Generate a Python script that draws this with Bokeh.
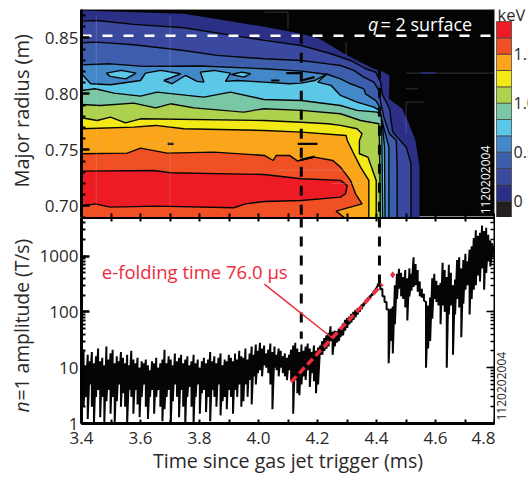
import math
import numpy as np
from bokeh.embed import file_html
from bokeh.resources import INLINE
from bokeh.plotting import figure
from bokeh.layouts import column, row
from bokeh.models import Range1d, FixedTicker, LogTicker, Label, LinearAxis, LogAxis, PrintfTickFormatter

FONT = "Open Sans"
INK = "#2b2728"
RED = "#ee2a3c"

# contour boundaries of the electron temperature map, outermost first
edge_t = [3.4, 3.747, 4.02, 4.145, 4.207, 4.291, 4.334, 4.391, 4.425, 4.444, 4.442, 4.487, 4.510, 4.532, 4.546, 4.546]
edge_R = [.8746, .8716, .8600, .8537, .8493, .8359, .8299, .8225, .8195, .8165, .7957, .7868, .7734, .7585, .7347, .6897]
c1_t = [3.4, 3.453, 3.577, 3.747, 4.02, 4.145, 4.246, 4.312, 4.363, 4.397, 4.414, 4.419, 4.444, 4.455, 4.501, 4.517, 4.517]
c1_R = [.8650, .8656, .8621, .8591, .8478, .8433, .8359, .8299, .8225, .8195, .8106, .8001, .7868, .7659, .7525, .7376, .6897]
c2_t = [3.4, 3.453, 3.577, 3.747, 3.86, 4.018, 4.145, 4.235, 4.278, 4.323, 4.357, 4.391, 4.408, 4.414, 4.425, 4.444, 4.467, 4.470, 4.470]
c2_R = [.8457, .8463, .8439, .8388, .8344, .8314, .8299, .8269, .8254, .8210, .8150, .8105, .8031, .7927, .7793, .7644, .7585, .7347, .6897]
c3_t = [3.4, 3.498, 3.611, 3.803, 4.018, 4.145, 4.235, 4.278, 4.312, 4.357, 4.363, 4.397, 4.408, 4.416, 4.430, 4.442, 4.442]
c3_R = [.8260, .8269, .8246, .8249, .8225, .8204, .8174, .8135, .8091, .8046, .8001, .7942, .7897, .7793, .7644, .7525, .6897]
c4_t = [3.4, 3.431, 3.498, 3.6, 3.617, 3.668, 3.736, 3.679, 3.707, 3.752, 3.792, 3.815, 3.803, 3.849, 3.905, 3.888, 3.928, 4.018,
        4.105, 4.145, 4.19, 4.233, 4.201, 4.246, 4.278, 4.334, 4.391, 4.410, 4.421, 4.427, 4.429]
c4_R = [.8180, .8091, .8082, .8120, .8186, .8210, .8180, .8120, .8091, .8165, .8112, .8106, .8195, .8210, .8186, .8112, .8120, .8106,
        .8091, .8097, .8120, .8180, .8106, .8076, .7987, .7927, .7882, .7853, .7704, .7525, .6897]
c5_t = [3.4, 3.447, 3.51, 3.6, 3.656, 3.758, 3.815, 3.905, 4.018, 4.145, 4.278, 4.334, 4.402, 4.416, 4.418, 4.421]
c5_R = [.8031, .8046, .8007, .7981, .8016, .7987, .7972, .8016, .7951, .7942, .7897, .7853, .7838, .7808, .7644, .6897]
c6_t = [3.4, 3.464, 3.577, 3.651, 3.702, 3.781, 3.95, 4.018, 4.145, 4.278, 4.346, 4.408, 4.41, 4.413]
c6_R = [.7906, .7897, .7918, .7876, .7912, .7876, .7838, .7868, .7853, .7823, .7763, .7734, .7585, .6897]
c7_t = [3.4, 3.453, 3.498, 3.549, 3.6, 4.018, 4.145, 4.235, 4.278, 4.334, 4.351, 4.342, 4.342, 4.371, 4.399, 4.399]
c7_R = [.7787, .7763, .7793, .7742, .7778, .7763, .7748, .7734, .7719, .7689, .7644, .7585, .7466, .7436, .7228, .6897]
c8_t = [3.4, 3.577, 3.651, 3.747, 4.018, 4.145, 4.297, 4.301, 4.323, 4.346, 4.374, 4.374]
c8_R = [.7689, .7704, .7719, .7689, .7674, .7659, .7629, .7585, .7466, .7347, .7228, .6897]
c9_t = [3.4, 3.555, 3.6, 3.69, 3.849, 4.02, 4.05, 4.06, 4.105, 4.133, 4.19, 4.252, 4.278, 4.312, 4.329, 4.351, 4.263, 4.291]
c9_R = [.7466, .7472, .7516, .7472, .7481, .7451, .7406, .7451, .7451, .7401, .7436, .7406, .7347, .7228, .7109, .7019, .6954, .6897]
c10_t = [3.4, 3.645, 3.702, 4.018, 4.145, 4.278, 4.301, 4.295, 4.278, 4.145, 4.02, 3.956, 3.916, 3.656, 3.498, 3.447, 3.4]
c10_R = [.7311, .7317, .7296, .7281, .7243, .7228, .7183, .7109, .7079, .7049, .7040, .7019, .6984, .6999, .6990, .7019, .6996]
island1_t = [3.484, 3.535, 3.585, 3.55, 3.497]
island1_R = [.8186, .8210, .8186, .8135, .8157]
island2_t = [3.908, 3.943, 3.973, 3.950]
island2_R = [.8174, .8195, .8180, .8150]
frag_t = [[3.692, 3.712], [4.133, 4.2], [4.094, 4.145], [4.043, 4.071], [4.145, 4.19], [4.14, 4.19]]
frag_R = [[.7555, .7555], [.7555, .7555], [.8186, .8186], [.8120, .8120], [.8120, .8150], [.7410, .7440]]
# faint stray grid lines of the original map
ghost_t = [[4.50, 4.80], [4.50, 4.54], [4.50, 4.50], [4.50, 4.56], [4.02, 4.10], [4.10, 4.10], [4.297, 4.297],
           [3.60, 3.75], [4.06, 4.30], [3.45, 3.45], [3.70, 3.70], [3.90, 4.05], [4.25, 4.36]]
ghost_R = [[.8186, .8186], [.8046, .8046], [.7927, .7644], [.7927, .7927], [.8731, .8731], [.8731, .8582], [.846, .834],
           [.7555, .7555], [.7319, .7319], [.87, .70], [.87, .70], [.785, .785], [.7200, .7200]]
navy_frag_t = [4.55, 4.60]
navy_frag_R = [.8186, .8186]

band_colors = ["#2b2f86", "#3a48a0", "#3c5eac", "#4388c8", "#5cc8e8", "#7ac7a5", "#aed14e", "#f3e917", "#fba51b", "#f15024", "#ed1c24"]
cb_colors = ["#231f20"] + band_colors
cb_edges = [-1/6, 0, 1/6, 2/6, 3/6, 4/6, 5/6, 1, 7/6, 8/6, 9/6, 10/6, 11/6]
cb_ticks = ["0", "0.5", "1.0", "1.5"]
cb_tick_values = [0, 0.5, 1.0, 1.5]

# n=1 amplitude, upper and lower envelope of the trace
amp_hi = [14,20,11,17,13,19,12,16,22,13,
          15,11,24,14,18,21,12,16,13,19,
          15,12,17,11,20,14,12,15,10,13,
          12,14,11,9,13,12,15,10,12,14,
          21,12,16,14,11,18,13,15,17,12,
          14,16,11,13,17,12,14,10,13,15,
          12,14,19,13,16,12,15,18,11,14,
          13,17,
          15,13,18,14,20,16,15,22,14,18,24,17,26,20,
          28,22,25,18,21,27,19,24,17,22,20,16,18,15,17,21,25,28,22,19,26,20,
          24,27,22,19,25,20,23,
          25,30,34,38,42,55,44,
          46,45,50,52,62,72,78,
          82,92,100,108,115,120,135,
          145,165,180,195,215,240,270,320,
          320,260,190,150,110,115,125,300,480,590,500,420,560,400,600,480,950,720,560,350,260,210,
          150,130,180,400,
          480,360,300,330,760,560,420,700,500,300,380,850,950,600,850,1100,800,1300,1500,2100,2900,2300,2600,3500,2800,3200,2400,1900,1700,1500]
amp_lo = [4,2,3,1.2,5,2,1,3,4,1.3,
          3,1,2.5,4,1.5,3,1,2.5,5,2,
          3.5,2,1,4,3,1.5,4,2.2,1.3,3,
          5,2,1.2,3,4,1.5,3,4,2,1.1,
          1.8,3,4,1,2.5,5,3,1.3,4,2,
          1,3,4.5,2,1,3,5,1.5,3.5,4,
          1.6,3,1.1,4,3,2,5,1.4,2.5,3,
          1.8,4,
          3,1.5,4,3,5,2,2.5,5,3,6,2.2,7,5,8,
          9,7,11,10,8,5,1.8,10,9,7,10,8,7,6,9,6,1.5,6,3.5,3.2,5,7,
          6,9,4.5,8,5.7,3.5,5,
          17,17,20,22,24,30,17,
          24,28,30,36,38,46,52,
          60,64,72,80,90,100,112,
          128,145,160,175,195,220,250,290,
          250,190,150,110,12,30,18,60,170,260,190,170,120,70,190,240,280,300,230,190,180,160,
          10,22,30,75,
          170,150,130,60,130,100,10,90,130,17,90,170,120,35,140,250,300,90,170,250,300,450,350,600,250,500,800,650,1000,1100]
fit_t = [4.11, 4.42]
fit_amp = [5.5, 314]
arrow_t = [4.02, 4.25]
arrow_amp = [314, 34]
dot_t = [4.455]
dot_amp = [460]
dash1_t = 4.145
dash2_t = 4.41
q2_R = 0.852

XR = (3.4, 4.8)
x_major = [3.4, 3.6, 3.8, 4.0, 4.2, 4.4, 4.6, 4.8]
x_minor = [3.5, 3.7, 3.9, 4.1, 4.3, 4.5, 4.7]
TICK_SIZE = "17px"

# ---- top panel
top = figure(width=460, height=217, x_range=Range1d(*XR), y_range=Range1d(.6897, .8754),
             output_backend="svg", toolbar_location=None, min_border_left=46, min_border_right=1,
             min_border_top=9, min_border_bottom=0, background_fill_color="#040404",
             outline_line_color="#8a8a8a", outline_line_width=1)
top.xgrid.visible = False
top.ygrid.visible = False
ax = top.xaxis[0]
ax.ticker = FixedTicker(ticks=x_major, minor_ticks=x_minor)
ax.major_label_text_font_size = "0px"
ax.major_label_standoff = 0
ax.major_tick_in = 4; ax.major_tick_out = 0; ax.minor_tick_in = 4; ax.minor_tick_out = 0
ax.major_tick_line_width = 2; ax.minor_tick_line_width = 2
ax.axis_line_color = None
ay = top.yaxis[0]
ay.ticker = FixedTicker(ticks=[.70, .75, .80, .85],
                        minor_ticks=[.69, .71, .72, .73, .74, .76, .77, .78, .79, .81, .82, .83, .84, .86, .87])
ay.formatter = PrintfTickFormatter(format="%.2f")
ay.major_label_text_font = FONT
ay.major_label_text_font_size = TICK_SIZE
ay.major_label_text_color = INK
ay.major_label_standoff = 3
ay.major_tick_in = 8; ay.major_tick_out = 0; ay.minor_tick_in = 4; ay.minor_tick_out = 0
ay.major_tick_line_width = 2.5; ay.minor_tick_line_width = 2
ay.axis_line_width = 3

outer = [(edge_t, edge_R), (c1_t, c1_R), (c2_t, c2_R), (c3_t, c3_R), (c4_t, c4_R), (c5_t, c5_R),
         (c6_t, c6_R), (c7_t, c7_R), (c8_t, c8_R), (c9_t, c9_R)]
for i, (tt, rr) in enumerate(outer):
    xs = tt + [3.4]
    ys = rr + [rr[-1]]
    top.patch(xs, ys, fill_color=band_colors[i], line_color=None)
    if i > 0:
        top.line(tt, rr, line_color="#050505", line_width=1.4)
    if i == 4:
        top.patches([island1_t, island2_t], [island1_R, island2_R], fill_color="#5cc8e8",
                    line_color="#050505", line_width=1.4)
top.patch(c10_t, c10_R, fill_color=band_colors[10], line_color="#050505", line_width=1.4)
top.multi_line(frag_t, frag_R, line_color="#050505", line_width=2.2)
top.multi_line(ghost_t, ghost_R, line_color="#c8c8c8", line_width=0.7, line_alpha=0.35)
top.line(navy_frag_t, navy_frag_R, line_color=band_colors[0], line_width=1.5)
top.line(XR, [q2_R, q2_R], line_color="white", line_width=2.5, line_dash="10 11")
top.line([dash1_t, dash1_t], [.8537, .6897], line_color="#050505", line_width=3, line_dash="10 9")
top.line([dash2_t, dash2_t], [.8225, .6897], line_color="#050505", line_width=3, line_dash="10 9")

top.add_layout(Label(x=4.371, y=.8628, text="q", text_font=FONT, text_font_style="italic",
                     text_font_size="18px", text_color="white", text_baseline="alphabetic"))
top.add_layout(Label(x=4.4136, y=.8628, text="= 2 surface", text_font=FONT,
                     text_font_size="18px", text_color="white", text_baseline="alphabetic"))
top.add_layout(Label(x=4.7695, y=.6925, text="1120202004", angle=math.pi/2, text_font=FONT,
                     text_font_size="12px", text_color="white", text_align="left", text_baseline="alphabetic"))

# ---- colour bar (frame spans the figure so its labels are not clipped)
cb = figure(width=33, height=217, x_range=Range1d(0, 33), y_range=Range1d(-1/6, 1.9558),
            output_backend="svg", toolbar_location=None, min_border_left=0, min_border_right=0,
            min_border_top=9, min_border_bottom=0, outline_line_color=None)
cb.xaxis.visible = False
cb.yaxis.visible = False
cb.xgrid.visible = False
cb.ygrid.visible = False
cb.quad(left=1, right=16, bottom=cb_edges[:-1], top=cb_edges[1:], fill_color=cb_colors,
        line_color="#3a3a3a", line_width=0.7)
for lab, val in zip(cb_ticks, cb_tick_values):
    cb.add_layout(Label(x=18, y=val, text=lab, text_font=FONT, text_font_size="16px", text_color=INK,
                        text_baseline="middle"))
cb.add_layout(Label(x=2, y=1.9047, text="keV", text_font=FONT, text_font_size="16.5px", text_color=INK,
                    text_baseline="alphabetic"))

# ---- bottom panel
bot = figure(width=460, height=261, x_range=Range1d(*XR), y_range=Range1d(1, 4900), y_axis_type="log",
             output_backend="svg", toolbar_location=None, min_border_left=46, min_border_right=1,
             min_border_top=0, min_border_bottom=55, outline_line_color="#050505", outline_line_width=1)
bot.xgrid.visible = False
bot.ygrid.visible = False

def style_x(a, labels=True):
    a.ticker = FixedTicker(ticks=x_major, minor_ticks=x_minor)
    a.major_tick_in = 4; a.major_tick_out = 0; a.minor_tick_in = 4; a.minor_tick_out = 0
    a.major_tick_line_width = 2; a.minor_tick_line_width = 2
    a.axis_line_width = 3
    if labels:
        a.major_label_text_font = FONT
        a.major_label_text_font_size = TICK_SIZE
        a.major_label_text_color = INK
        a.major_label_standoff = 8
        a.formatter = PrintfTickFormatter(format="%.1f")
        a.axis_label = "Time since gas jet trigger (ms)"
        a.axis_label_text_font = FONT
        a.axis_label_text_font_style = "normal"
        a.axis_label_text_font_size = "19.6px"
        a.axis_label_text_color = INK
        a.axis_label_standoff = 0
    else:
        a.major_label_text_font_size = "0px"
        a.major_label_standoff = 0

def style_y(a, labels=True):
    a.ticker = LogTicker(num_minor_ticks=10)
    a.major_tick_in = 8; a.major_tick_out = 0; a.minor_tick_in = 4; a.minor_tick_out = 0
    a.major_tick_line_width = 2.5 if labels else 1.5; a.minor_tick_line_width = 2 if labels else 1.5
    a.axis_line_width = 3 if labels else 2
    a.formatter = PrintfTickFormatter(format="%d")
    if labels:
        a.major_label_text_font = FONT
        a.major_label_text_font_size = TICK_SIZE
        a.major_label_text_color = INK
        a.major_label_standoff = 3
    else:
        a.major_label_text_font_size = "0px"
        a.major_label_standoff = 0

style_x(bot.xaxis[0])
style_y(bot.yaxis[0])
a_top = LinearAxis(); style_x(a_top, labels=False); bot.add_layout(a_top, "above")
a_right = LogAxis(); style_y(a_right, labels=False); bot.add_layout(a_right, "right")

amp_t = np.linspace(3.4, 4.8, len(amp_hi))
zig_t = np.repeat(amp_t, 2)
zig_a = np.column_stack([amp_hi, amp_lo]).ravel()
bot.line(zig_t, zig_a, line_color="#050505", line_width=2.0)

bot.line([dash1_t, dash1_t], [4900, 33], line_color="#050505", line_width=3, line_dash="10 9")
bot.line([dash2_t, dash2_t], [4900, 320], line_color="#050505", line_width=3, line_dash="10 9")
bot.line(fit_t, fit_amp, line_color=RED, line_width=3.5, line_dash="8 4")
bot.line(arrow_t, arrow_amp, line_color=RED, line_width=1.5)
bot.scatter(dot_t, dot_amp, marker="diamond", size=6, color=RED)

bot.add_layout(Label(x=3.469, y=530, text="e-folding time 76.0 \u00b5s", text_font=FONT,
                     text_font_size="18.5px", text_color=RED, text_baseline="alphabetic"))

# ---- strip right of the lower panel, same frame height
side = figure(width=33, height=261, x_range=Range1d(0, 33), y_range=Range1d(423, 217),
              output_backend="svg", toolbar_location=None, min_border_left=0, min_border_right=0,
              min_border_top=0, min_border_bottom=55, outline_line_color=None)
side.xaxis.visible = False
side.yaxis.visible = False
side.xgrid.visible = False
side.ygrid.visible = False
side.add_layout(Label(x=6, y=420, text="1120202004", angle=math.pi/2, text_font=FONT,
                      text_font_size="12px", text_color=INK, text_align="left", text_baseline="alphabetic"))

# ---- strip with the two rotated axis titles
strip = figure(width=35, height=478, x_range=Range1d(0, 35), y_range=Range1d(478, 0),
               output_backend="svg", toolbar_location=None, min_border_left=0, min_border_right=0,
               min_border_top=0, min_border_bottom=0, outline_line_color=None)
strip.xaxis.visible = False
strip.yaxis.visible = False
strip.xgrid.visible = False
strip.ygrid.visible = False
strip.add_layout(Label(x=21, y=187, text="Major radius (m)", angle=math.pi/2, text_font=FONT,
                       text_font_size="20px", text_color=INK, text_align="left", text_baseline="alphabetic"))
strip.add_layout(Label(x=21, y=412, text="n", angle=math.pi/2, text_font=FONT, text_font_style="italic",
                       text_font_size="19.3px", text_color=INK, text_align="left", text_baseline="alphabetic"))
strip.add_layout(Label(x=21, y=400, text="=1 amplitude (T/s)", angle=math.pi/2, text_font=FONT,
                       text_font_size="19.3px", text_color=INK, text_align="left", text_baseline="alphabetic"))

layout = row(strip, column(row(top, cb, spacing=0), row(bot, side, spacing=0), spacing=0), spacing=0)
open("out.html", "w").write(file_html(layout, INLINE))
